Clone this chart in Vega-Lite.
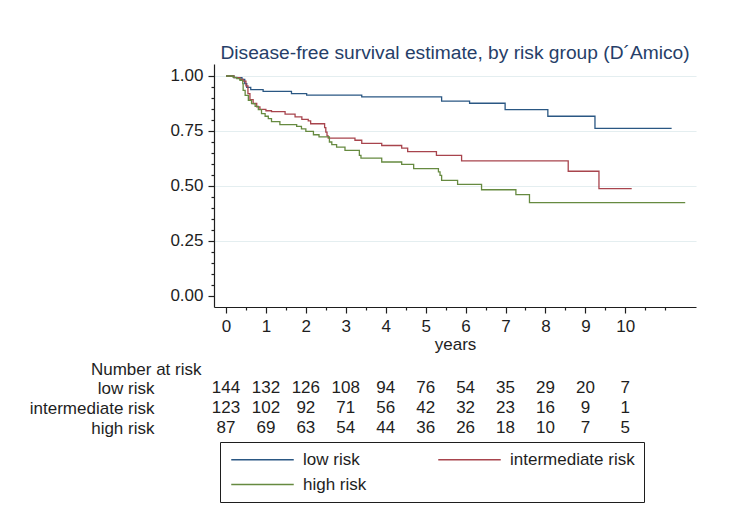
{
  "$schema": "https://vega.github.io/schema/vega-lite/v6.json",
  "background": "white",
  "padding": {"left": 29, "top": 43, "right": 5, "bottom": 5},
  "config": {
    "font": "Liberation Sans",
    "view": {"stroke": null},
    "axis": {
      "labelFont": "Liberation Sans", "labelFontSize": 17, "labelColor": "#1e1e1e",
      "titleFont": "Liberation Sans", "titleFontSize": 17, "titleFontWeight": "normal", "titleColor": "#1e1e1e",
      "domainColor": "#1e1e1e", "tickColor": "#1e1e1e", "domainWidth": 1.2, "tickWidth": 1.2
    },
    "title": {"font": "Liberation Sans"}
  },
  "datasets": {
    "km": [
      {"group": "low risk", "t": 0, "s": 1.0},
      {"group": "low risk", "t": 0.2, "s": 0.993},
      {"group": "low risk", "t": 0.4, "s": 0.985},
      {"group": "low risk", "t": 0.47, "s": 0.965},
      {"group": "low risk", "t": 0.52, "s": 0.948},
      {"group": "low risk", "t": 0.62, "s": 0.938},
      {"group": "low risk", "t": 0.93, "s": 0.93},
      {"group": "low risk", "t": 1.64, "s": 0.92},
      {"group": "low risk", "t": 2.02, "s": 0.913},
      {"group": "low risk", "t": 3.4, "s": 0.905},
      {"group": "low risk", "t": 5.4, "s": 0.886},
      {"group": "low risk", "t": 6.1, "s": 0.876},
      {"group": "low risk", "t": 6.99, "s": 0.847},
      {"group": "low risk", "t": 8.06, "s": 0.817},
      {"group": "low risk", "t": 9.24, "s": 0.762},
      {"group": "low risk", "t": 11.16, "s": 0.762},
      {"group": "intermediate risk", "t": 0, "s": 1.0},
      {"group": "intermediate risk", "t": 0.2, "s": 0.993},
      {"group": "intermediate risk", "t": 0.35, "s": 0.985},
      {"group": "intermediate risk", "t": 0.43, "s": 0.977},
      {"group": "intermediate risk", "t": 0.5, "s": 0.955},
      {"group": "intermediate risk", "t": 0.55, "s": 0.92},
      {"group": "intermediate risk", "t": 0.6, "s": 0.893},
      {"group": "intermediate risk", "t": 0.68, "s": 0.875},
      {"group": "intermediate risk", "t": 0.77, "s": 0.86},
      {"group": "intermediate risk", "t": 0.85, "s": 0.848},
      {"group": "intermediate risk", "t": 1.0, "s": 0.842},
      {"group": "intermediate risk", "t": 1.14, "s": 0.838},
      {"group": "intermediate risk", "t": 1.48, "s": 0.827},
      {"group": "intermediate risk", "t": 1.73, "s": 0.814},
      {"group": "intermediate risk", "t": 1.9, "s": 0.803},
      {"group": "intermediate risk", "t": 2.06, "s": 0.796},
      {"group": "intermediate risk", "t": 2.12, "s": 0.783},
      {"group": "intermediate risk", "t": 2.47, "s": 0.765},
      {"group": "intermediate risk", "t": 2.5, "s": 0.745},
      {"group": "intermediate risk", "t": 2.53, "s": 0.728},
      {"group": "intermediate risk", "t": 2.56, "s": 0.718},
      {"group": "intermediate risk", "t": 3.23, "s": 0.708},
      {"group": "intermediate risk", "t": 3.4, "s": 0.694},
      {"group": "intermediate risk", "t": 3.9, "s": 0.684},
      {"group": "intermediate risk", "t": 4.4, "s": 0.672},
      {"group": "intermediate risk", "t": 4.55, "s": 0.656},
      {"group": "intermediate risk", "t": 5.27, "s": 0.639},
      {"group": "intermediate risk", "t": 5.9, "s": 0.614},
      {"group": "intermediate risk", "t": 8.57, "s": 0.567},
      {"group": "intermediate risk", "t": 9.34, "s": 0.488},
      {"group": "intermediate risk", "t": 10.16, "s": 0.488},
      {"group": "high risk", "t": 0, "s": 1.0},
      {"group": "high risk", "t": 0.18, "s": 0.994},
      {"group": "high risk", "t": 0.27, "s": 0.988},
      {"group": "high risk", "t": 0.35, "s": 0.98},
      {"group": "high risk", "t": 0.42, "s": 0.965},
      {"group": "high risk", "t": 0.43, "s": 0.935},
      {"group": "high risk", "t": 0.48, "s": 0.912},
      {"group": "high risk", "t": 0.56, "s": 0.889},
      {"group": "high risk", "t": 0.64, "s": 0.874},
      {"group": "high risk", "t": 0.73, "s": 0.862},
      {"group": "high risk", "t": 0.81, "s": 0.847},
      {"group": "high risk", "t": 0.89, "s": 0.829},
      {"group": "high risk", "t": 0.98, "s": 0.817},
      {"group": "high risk", "t": 1.06, "s": 0.806},
      {"group": "high risk", "t": 1.14, "s": 0.793},
      {"group": "high risk", "t": 1.35, "s": 0.779},
      {"group": "high risk", "t": 1.77, "s": 0.771},
      {"group": "high risk", "t": 1.89, "s": 0.76},
      {"group": "high risk", "t": 2.0, "s": 0.748},
      {"group": "high risk", "t": 2.19, "s": 0.733},
      {"group": "high risk", "t": 2.33, "s": 0.723},
      {"group": "high risk", "t": 2.59, "s": 0.7},
      {"group": "high risk", "t": 2.65, "s": 0.688},
      {"group": "high risk", "t": 2.77, "s": 0.677},
      {"group": "high risk", "t": 2.98, "s": 0.662},
      {"group": "high risk", "t": 3.34, "s": 0.639},
      {"group": "high risk", "t": 3.38, "s": 0.627},
      {"group": "high risk", "t": 3.9, "s": 0.609},
      {"group": "high risk", "t": 4.4, "s": 0.598},
      {"group": "high risk", "t": 4.7, "s": 0.579},
      {"group": "high risk", "t": 5.32, "s": 0.564},
      {"group": "high risk", "t": 5.36, "s": 0.548},
      {"group": "high risk", "t": 5.4, "s": 0.526},
      {"group": "high risk", "t": 5.8, "s": 0.507},
      {"group": "high risk", "t": 6.4, "s": 0.483},
      {"group": "high risk", "t": 7.26, "s": 0.461},
      {"group": "high risk", "t": 7.6, "s": 0.424},
      {"group": "high risk", "t": 11.5, "s": 0.424}
    ],
    "risk": [
      {"group": "low risk", "t": 0, "n": 144}, {"group": "low risk", "t": 1, "n": 132}, {"group": "low risk", "t": 2, "n": 126},
      {"group": "low risk", "t": 3, "n": 108}, {"group": "low risk", "t": 4, "n": 94}, {"group": "low risk", "t": 5, "n": 76},
      {"group": "low risk", "t": 6, "n": 54}, {"group": "low risk", "t": 7, "n": 35}, {"group": "low risk", "t": 8, "n": 29},
      {"group": "low risk", "t": 9, "n": 20}, {"group": "low risk", "t": 10, "n": 7},
      {"group": "intermediate risk", "t": 0, "n": 123}, {"group": "intermediate risk", "t": 1, "n": 102}, {"group": "intermediate risk", "t": 2, "n": 92},
      {"group": "intermediate risk", "t": 3, "n": 71}, {"group": "intermediate risk", "t": 4, "n": 56}, {"group": "intermediate risk", "t": 5, "n": 42},
      {"group": "intermediate risk", "t": 6, "n": 32}, {"group": "intermediate risk", "t": 7, "n": 23}, {"group": "intermediate risk", "t": 8, "n": 16},
      {"group": "intermediate risk", "t": 9, "n": 9}, {"group": "intermediate risk", "t": 10, "n": 1},
      {"group": "high risk", "t": 0, "n": 87}, {"group": "high risk", "t": 1, "n": 69}, {"group": "high risk", "t": 2, "n": 63},
      {"group": "high risk", "t": 3, "n": 54}, {"group": "high risk", "t": 4, "n": 44}, {"group": "high risk", "t": 5, "n": 36},
      {"group": "high risk", "t": 6, "n": 26}, {"group": "high risk", "t": 7, "n": 18}, {"group": "high risk", "t": 8, "n": 10},
      {"group": "high risk", "t": 9, "n": 7}, {"group": "high risk", "t": 10, "n": 5}
    ]
  },
  "bounds": "flush",
  "spacing": 71,
  "vconcat": [
    {
      "width": 482,
      "height": 243,
      "title": {
        "text": "Disease-free survival estimate, by risk group (D´Amico)",
        "fontSize": 19.2, "fontWeight": "normal", "color": "#263e68", "anchor": "middle", "offset": 1
      },
      "data": {"name": "km"},
      "mark": {"type": "line", "interpolate": "step-after", "strokeWidth": 1.3},
      "encoding": {
        "x": {
          "field": "t", "type": "quantitative",
          "scale": {"domain": [-0.3, 11.77], "nice": false, "zero": false},
          "axis": {
            "title": "years", "titlePadding": 2,
            "values": [0, 0.5, 1, 1.5, 2, 2.5, 3, 3.5, 4, 4.5, 5, 5.5, 6, 6.5, 7, 7.5, 8, 8.5, 9, 9.5, 10, 10.5, 11],
            "labelExpr": "datum.value % 1 == 0 && datum.value <= 10 ? format(datum.value, 'd') : ''",
            "tickSize": {"expr": "datum.value % 1 == 0 && datum.value <= 10 ? 6 : 3"},
            "labelPadding": 5, "grid": false, "labelFlush": false, "labelOverlap": false
          }
        },
        "y": {
          "field": "s", "type": "quantitative",
          "scale": {"domain": [-0.05, 1.0545], "nice": false, "zero": false},
          "axis": {
            "title": null,
            "values": [0, 0.05, 0.1, 0.15, 0.2, 0.25, 0.3, 0.35, 0.4, 0.45, 0.5, 0.55, 0.6, 0.65, 0.7, 0.75, 0.8, 0.85, 0.9, 0.95, 1.0],
            "labelExpr": "abs(datum.value * 4 - round(datum.value * 4)) < 0.001 ? format(datum.value, '.2f') : ''",
            "tickSize": {"expr": "abs(datum.value * 4 - round(datum.value * 4)) < 0.001 ? 6 : 3"},
            "labelPadding": 5, "grid": true, "gridColor": "#e4eef0", "gridWidth": 1.2,
            "gridOpacity": {"expr": "abs(datum.value * 4 - round(datum.value * 4)) < 0.001 && datum.value > 0.01 ? 1 : 0"},
            "labelFlush": false, "labelOverlap": false
          }
        },
        "color": {
          "field": "group", "type": "nominal",
          "scale": {"domain": ["low risk", "intermediate risk", "high risk"], "range": ["#2a5783", "#a8444d", "#668a40"]},
          "legend": {
            "title": null, "orient": "none", "legendX": 6, "legendY": 378,
            "direction": "horizontal", "columns": 2,
            "symbolType": "M-1,0H9", "symbolSize": 156.25, "symbolStrokeWidth": 1.3,
            "labelFontSize": 17, "labelColor": "#1e1e1e", "labelFont": "Liberation Sans", "labelOffset": 57,
            "columnPadding": 68, "rowPadding": 7, "padding": 9,
            "strokeColor": "#1e1e1e", "fillColor": "white"
          }
        }
      }
    },
    {
      "width": 482,
      "height": 60,
      "data": {"name": "risk"},
      "mark": {"type": "text", "fontSize": 17, "color": "#1e1e1e", "font": "Liberation Sans"},
      "encoding": {
        "x": {"field": "t", "type": "quantitative", "scale": {"domain": [-0.3, 11.77], "nice": false, "zero": false}, "axis": null},
        "y": {
          "field": "group", "type": "nominal",
          "sort": ["low risk", "intermediate risk", "high risk"],
          "scale": {"paddingInner": 0, "paddingOuter": 0},
          "axis": {
            "title": "Number at risk", "titleAngle": 0, "titleAlign": "right", "titleBaseline": "middle",
            "titleX": -13, "titleY": -9,
            "labelPadding": 60, "ticks": false, "domain": false, "labelAlign": "right"
          }
        },
        "text": {"field": "n", "type": "quantitative"}
      }
    }
  ]
}
